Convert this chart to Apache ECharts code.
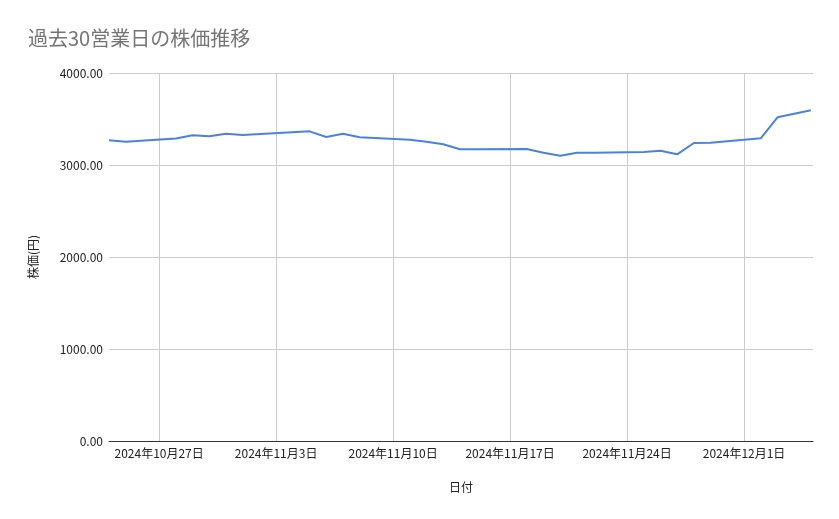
<!DOCTYPE html>
<html>
<head>
<meta charset="utf-8">
<script src="https://cdn.jsdelivr.net/npm/echarts@6/dist/echarts.min.js"></script>
<style>
html,body{margin:0;padding:0;background:#fff;}
#chart{width:839px;height:519px;}
</style>
</head>
<body>
<div id="chart"></div>
<script>
const dates = [
  '2024-10-24','2024-10-25',
  '2024-10-28','2024-10-29','2024-10-30','2024-10-31','2024-11-01',
  '2024-11-05','2024-11-06','2024-11-07','2024-11-08',
  '2024-11-11','2024-11-12','2024-11-13','2024-11-14','2024-11-15',
  '2024-11-18','2024-11-19','2024-11-20','2024-11-21','2024-11-22',
  '2024-11-25','2024-11-26','2024-11-27','2024-11-28','2024-11-29',
  '2024-12-02','2024-12-03','2024-12-04','2024-12-05'
];
const prices = [
  3268, 3253,
  3288, 3323, 3312, 3340, 3326,
  3366, 3304, 3340, 3301,
  3275, 3253, 3225, 3171, 3172,
  3174, 3134, 3101, 3134, 3133,
  3141, 3155, 3116, 3239, 3242,
  3290, 3518, 3558, 3595
];
const xTickDates = ['2024-10-27','2024-11-03','2024-11-10','2024-11-17','2024-11-24','2024-12-01'];
const yTicks = [0, 1000, 2000, 3000, 4000];

const DAY = 86400000;
function ts(s){ const p = s.split('-').map(Number); return Date.UTC(p[0], p[1]-1, p[2]); }
const xTicks = xTickDates.map(ts);
const seriesData = dates.map((d, i) => [ts(d), prices[i]]);

const chart = echarts.init(document.getElementById('chart'));
const font = '"Noto Sans CJK JP", "Noto Sans", Roboto, sans-serif';
chart.setOption({
  animation: false,
  title: {
    text: '過去30営業日の株価推移',
    left: 23, top: 23,
    textStyle: { fontFamily: font, fontSize: 20, fontWeight: 'normal', color: '#757575' }
  },
  grid: { left: 109, right: 26, top: 73, bottom: 78, containLabel: false },
  xAxis: {
    type: 'value',
    scale: true,
    min: ts('2024-10-24'),
    max: ts('2024-12-05') + DAY / 8,
    name: '日付',
    nameLocation: 'middle',
    nameGap: 40,
    nameTextStyle: { fontFamily: font, fontSize: 12, color: '#222' },
    axisLine: { show: true, onZero: false, lineStyle: { color: '#333', width: 1 } },
    axisTick: { show: false, customValues: xTicks },
    axisLabel: {
      customValues: xTicks,
      fontFamily: font, fontSize: 12, color: '#222', margin: 6,
      formatter: function (v) {
        const d = new Date(v);
        return d.getUTCFullYear() + '年' + (d.getUTCMonth() + 1) + '月' + d.getUTCDate() + '日';
      }
    },
    splitLine: { show: true, lineStyle: { color: '#cccccc', width: 1 } }
  },
  yAxis: {
    type: 'value',
    min: yTicks[0], max: yTicks[yTicks.length - 1], interval: 1000,
    name: '株価(円)',
    nameLocation: 'middle',
    nameGap: 70,
    nameTextStyle: { fontFamily: font, fontSize: 12, color: '#222' },
    axisLine: { show: false },
    axisTick: { show: false },
    axisLabel: {
      fontFamily: font, fontSize: 12, color: '#222', margin: 6,
      formatter: function (v) { return v.toFixed(2); }
    },
    splitLine: { show: true, lineStyle: { color: '#cccccc', width: 1 } }
  },
  series: [{
    type: 'line',
    data: seriesData,
    showSymbol: false,
    symbol: 'none',
    lineStyle: { color: '#4a83df', width: 2 },
    itemStyle: { color: '#4a83df' }
  }]
});
</script>
</body>
</html>
